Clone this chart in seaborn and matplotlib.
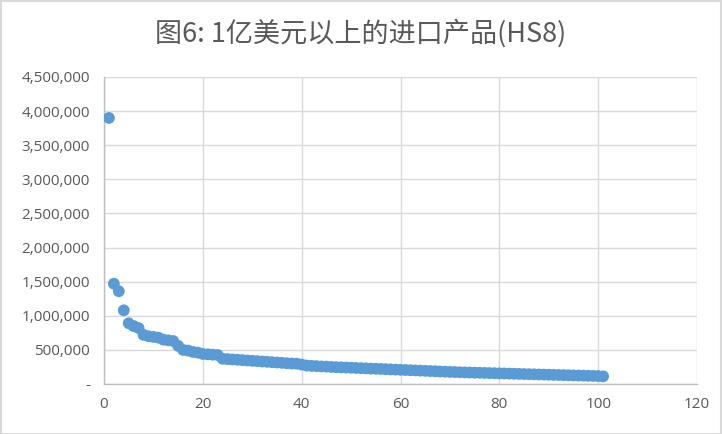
import numpy as np
import pandas as pd
import matplotlib
matplotlib.use("Agg")
import matplotlib.pyplot as plt
import matplotlib.ticker as mticker
import seaborn as sns

# rank of each product (1 = largest import value)
ranks = list(range(1, 102))

# import value per product (thousand US$ units as in the original axis)
values = [
    3900000, 1470000, 1360000, 1080000, 890000, 850000, 820000, 720000, 700000, 690000,
    680000, 650000, 640000, 630000, 560000, 500000, 490000, 470000, 460000, 440000,
    435000, 430000, 425000, 370000, 365000, 360000, 355000, 350000, 345000, 340000,
    335000, 330000, 325000, 320000, 315000, 310000, 305000, 300000, 298000, 285000,
    270000, 265000, 262000, 258000, 255000, 250000, 247000, 244000, 241000, 238000,
    235000, 232000, 229000, 226000, 223000, 220000, 217000, 214000, 211000, 208000,
    205000, 202000, 199000, 196000, 193000, 190000, 187000, 183000, 180000, 177000,
    175000, 172000, 170000, 168000, 166000, 164000, 162000, 160000, 158000, 156000,
    154000, 152000, 150000, 148000, 146000, 144000, 142000, 140000, 138000, 136000,
    134000, 132000, 130000, 128000, 126000, 124000, 122000, 120000, 118000, 116000,
    112000,
]

title = "图6: 1亿美元以上的进口产品(HS8)"

df = pd.DataFrame({"rank": ranks, "value": values})

sns.set_theme(style="white")
plt.rcParams["font.family"] = ["Open Sans", "Noto Sans CJK SC", "DejaVu Sans"]

fig = plt.figure(figsize=(7.22, 4.34), dpi=100)
ax = fig.add_axes([104 / 722, 50 / 434, 593 / 722, 307 / 434])

sns.scatterplot(data=df, x="rank", y="value", ax=ax, color="#5B9BD5",
                s=72, edgecolor="none", linewidth=0, zorder=3)

ax.set_xlim(0, 120)
ax.set_ylim(0, 4500000)
ax.set_xticks(range(0, 121, 20))
ax.set_yticks(range(0, 4500001, 500000))
ax.yaxis.set_major_formatter(mticker.FuncFormatter(
    lambda v, p: "-" if v == 0 else f"{int(v):,}"))

ax.grid(True, color="#D9D9D9", linewidth=1)
ax.set_axisbelow(True)
for side in ["top", "right"]:
    ax.spines[side].set_visible(False)
for side in ["left", "bottom"]:
    ax.spines[side].set_color("#BFBFBF")
    ax.spines[side].set_linewidth(1)

ax.tick_params(axis="both", colors="#595959", labelsize=11, length=0)
ax.tick_params(axis="y", pad=10)
ax.tick_params(axis="x", pad=9)
ax.set_xlabel("")
ax.set_ylabel("")

fig.text(0.5, 1 - 33 / 434, title, ha="center", va="center", fontsize=19.5,
         color="#595959", family=["Noto Sans CJK SC", "DejaVu Sans"])

# light frame round the chart area, as in the source
fig.patches.append(plt.Rectangle((0.001, 0.001), 0.998, 0.997, transform=fig.transFigure,
                                 fill=False, edgecolor="#D9D9D9", linewidth=1.5))

fig.savefig("out.png", dpi=100, facecolor="white")
